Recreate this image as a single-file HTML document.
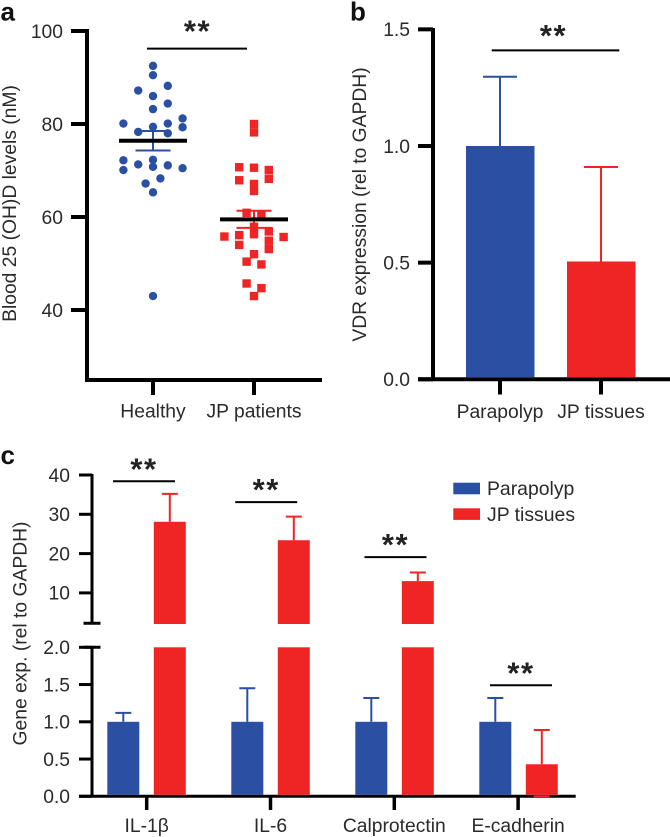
<!DOCTYPE html>
<html lang="en">
<head>
<meta charset="utf-8">
<title>Vitamin D and gene expression charts</title>
<style>
html,body{margin:0;padding:0;background:#fff;width:670px;height:837px;overflow:hidden}
svg{display:block}
text{font-family:"Liberation Sans",Arial,sans-serif;fill:#2b2a2b}
.tick{font-size:19.3px}
.cat{font-size:19.3px}
.title{font-size:19.3px}
.legend{font-size:19.4px}
.panel{font-size:26px;font-weight:bold;fill:#111}
.stars{font-size:31px;font-weight:bold;letter-spacing:1.5px;fill:#222}
</style>
</head>
<body>
<svg id="figure" xmlns="http://www.w3.org/2000/svg" width="670" height="837" viewBox="0 0 670 837">
<text class="panel" x="0.5" y="20.5">a</text>
<text class="panel" x="350" y="20.5">b</text>
<text class="panel" x="0.5" y="464">c</text>
<text class="title" transform="translate(16,203.5) rotate(-90)" text-anchor="middle">Blood 25 (OH)D levels (nM)</text>
<text class="title" transform="translate(366,204.5) rotate(-90)" text-anchor="middle">VDR expression (rel to GAPDH)</text>
<text class="title" transform="translate(26.5,633.5) rotate(-90)" text-anchor="middle">Gene exp. (rel to GAPDH)</text>
<rect x="453.3" y="482.7" width="26.7" height="11.6" fill="#2a4fa3"/>
<text class="legend" x="487" y="495">Parapolyp</text>
<rect x="453.3" y="508.3" width="26.7" height="11.6" fill="#ee2524"/>
<text class="legend" x="487" y="521">JP tissues</text>
</svg>
<script>
// ---- Panel a data ----
const aCategories = ['Healthy', 'JP patients'];
const aTicks = [100, 80, 60, 40];
const healthyValues = [92.5, 90.5, 88.2, 87.2, 86.0, 84.4, 83.2, 81.2, 80.1, 80.1, 79.4, 79.3, 78.3, 78.0, 72.3, 72.2, 71.3, 71.1, 70.8, 70.5, 70.1, 68.3, 67.2, 65.3, 43.0];
const healthySlots = [0, 0, 2, -2, 0, 2, 0, 4, -4, 2, 0, 4, -2, 2, 0, -4, -2, 2, 0, 4, -4, 1, -1, 0, 0];
const patientValues = [80.0, 78.2, 70.7, 70.6, 70.1, 68.2, 67.9, 67.1, 65.6, 60.9, 60.4, 57.9, 56.9, 56.3, 56.1, 55.8, 55.7, 54.9, 54.0, 53.1, 52.0, 50.4, 49.8, 45.7, 44.7, 43.0];
const patientSlots = [0, 0, -2, 0, 2, 2, -2, 0, 0, -1, 1, 0, 2, 0, -2, -4, 4, 2, -2, 2, 0, -1, 1, -1, 1, 0];
const aMeans = [76.4, 59.5];
const aSems = [2.1, 1.85];
const aBracketLevel = 96.2;

// ---- Panel b data ----
const bCategories = ['Parapolyp', 'JP tissues'];
const bTicks = ['1.5', '1.0', '0.5', '0.0'];
const bValues = [1.0, 0.505];
const bErrors = [0.297, 0.405];
const bBracketLevel = 1.41;

// ---- Panel c data ----
const cCategories = ['IL-1\u03b2', 'IL-6', 'Calprotectin', 'E-cadherin'];
const cUpperTicks = [40, 30, 20, 10];
const cLowerTicks = ['2.0', '1.5', '1.0', '0.5', '0.0'];
const cParapolyp = [1.0, 1.0, 1.0, 1.0];
const cParapolypErr = [0.12, 0.45, 0.32, 0.32];
const cTissues = [28.1, 23.4, 13.0, 0.43];
const cTissuesErr = [7.1, 6.0, 2.2, 0.46];
const cBracketUpper = [38.4, 33.1, 19.1, null];
const cBracketLower = [null, null, null, 1.49];

const BLUE = '#2a4fa3', RED = '#ee2524', BLACK = '#000';
const svg = document.getElementById('figure');
const NS = 'http://www.w3.org/2000/svg';

function make(tag, attrs) {
  const el = document.createElementNS(NS, tag);
  for (const k in attrs) el.setAttribute(k, attrs[k]);
  svg.appendChild(el);
  return el;
}
function line(x1, y1, x2, y2, color, w) {
  return make('line', { x1: x1, y1: y1, x2: x2, y2: y2, stroke: color, 'stroke-width': w });
}
function label(str, x, y, cls, anchor) {
  const el = make('text', { x: x, y: y, class: cls, 'text-anchor': anchor });
  el.textContent = str;
  return el;
}

// ---- axis functions ----
const yA = v => 31 + (100 - v) * 4.65;
const xA = i => 153 + i * 101;
const yB = v => 379.3 - v * 233.3;
const xB = i => 500 + i * 101;
const yCUp = v => 475 + (40 - v) * 3.93;
const yCLow = v => 796.3 - v * 74.5;
const yC = v => (v > 2 ? yCUp(v) : yCLow(v));
const xC = i => 146.7 + i * 124;
const xCTick = i => 146.7 + i * 123.8;

// ---- Panel a ----
const aYAxis = line(87, 29, 87, 382, BLACK, 4);


const aXAxis = line(85, 380, 322, 380, BLACK, 4);


aTicks.forEach(t => {
  const m = line(71, yA(t), 87, yA(t), BLACK, 4);
  
  
  const l = label(t, 63, yA(t) + 6.8, 'tick', 'end');
  
  
});
aCategories.forEach((c, i) => {
  const m = line(xA(i), 380, xA(i), 395, BLACK, 4);
  
  
  const l = label(c, xA(i), 417.5, 'cat', 'middle');
  
  
});
healthyValues.forEach((v, i) => {
  const p = make('circle', { cx: xA(0) + healthySlots[i] * 7.4, cy: yA(v), r: 4.2, fill: BLUE });
  
  
});
patientValues.forEach((v, i) => {
  const p = make('rect', { x: xA(1) + patientSlots[i] * 7.4 - 4.2, y: yA(v) - 4.2, width: 8.4, height: 8.4, fill: RED });
  
  
});
aMeans.forEach((mean, i) => {
  const color = i === 0 ? BLUE : RED;
  const hi = yA(mean + aSems[i]), lo = yA(mean - aSems[i]);
  [[xA(i), hi, xA(i), lo], [xA(i) - 17.5, hi, xA(i) + 17.5, hi], [xA(i) - 17.5, lo, xA(i) + 17.5, lo]].forEach(s => {
    const e = line(s[0], s[1], s[2], s[3], color, 2);
    
    
  });
  const m = line(xA(i) - 34, yA(mean), xA(i) + 34, yA(mean), BLACK, 4);
  
  
});
const aBracket = line(xA(0) - 6, yA(aBracketLevel), xA(1) - 7, yA(aBracketLevel), BLACK, 2);


const aStars = label('**', (xA(0) + xA(1)) / 2 - 6, yA(aBracketLevel) - 7, 'stars', 'middle');



// ---- Panel b ----
const bYAxis = line(433, 28, 433, 381, BLACK, 4);


const bXAxis = line(418, 379.3, 670, 379.3, BLACK, 4);


bTicks.forEach(t => {
  const m = line(418, yB(+t), 433, yB(+t), BLACK, 4);
  
  
  const l = label(t, 410, yB(+t) + 6.8, 'tick', 'end');
  
  
});
bCategories.forEach((c, i) => {
  const m = line(xB(i), 379, xB(i), 394.5, BLACK, 4);
  
  
  const l = label(c, xB(i), 418, 'cat', 'middle');
  
  
});
bValues.forEach((v, i) => {
  const color = i === 0 ? BLUE : RED;
  const top = yB(v + bErrors[i]);
  const stem = line(xB(i), top, xB(i), yB(v), color, 2);
  
  
  const cap = line(xB(i) - 17, top, xB(i) + 17, top, color, 2);
  
  
  const b = make('rect', { x: xB(i) - 34, y: yB(v), width: 68.5, height: yB(0) - yB(v) - 2, fill: color });
  
  
});
const bBracket = line(491.7, yB(bBracketLevel), 619.3, yB(bBracketLevel), BLACK, 2);


const bStars = label('**', 553.5, yB(bBracketLevel) - 4.5, 'stars', 'middle');



// ---- Panel c ----
const cUpAxis = line(92, 474, 92, 624.4, BLACK, 3);


const cLowAxis = line(92, 646, 92, 797, BLACK, 3);


const cXAxis = line(79, yCLow(0), 575.7, yCLow(0), BLACK, 3);


const breakTop = line(83.5, 623.3, 100.5, 623.3, BLACK, 3);


const breakBottom = line(83.5, yCLow(2), 100.5, yCLow(2), BLACK, 3);


cUpperTicks.forEach(t => {
  const m = line(79, yCUp(t), 92, yCUp(t), BLACK, 3);
  
  
  const l = label(t, 70, yCUp(t) + 6.8, 'tick', 'end');
  
  
});
cLowerTicks.forEach(t => {
  const m = line(79, yCLow(+t), 92, yCLow(+t), BLACK, 3);
  
  
  const l = label(t, 70, yCLow(+t) + 6.8, 'tick', 'end');
  
  
});
function cBar(i, dx, v, err, color) {
  const cx = xC(i) + dx;
  const top = v + err;
  const stem = line(cx, yC(top), cx, yC(v), color, 2);
  
  
  const cap = line(cx - 8, yC(top), cx + 8, yC(top), color, 2);
  
  
  const lowTop = yCLow(Math.min(v, 2));
  const low = make('rect', { x: cx - 16, y: lowTop, width: 32, height: yCLow(0) - lowTop - 1.5, fill: color });
  
  
  if (v > 2) {
    const upTop = yCUp(v);
    const up = make('rect', { x: cx - 16, y: upTop, width: 32, height: 624 - upTop, fill: color });
    
    
  }
}
cCategories.forEach((c, i) => {
  cBar(i, -23.4, cParapolyp[i], cParapolypErr[i], BLUE);
  cBar(i, 23.1, cTissues[i], cTissuesErr[i], RED);
  if (cTissues[i] - cTissuesErr[i] <= 0) {
    const lowCap = line(xC(i) + 15, yCLow(0), xC(i) + 31, yCLow(0), RED, 2);
    
    
  }
  const m = line(xCTick(i), yCLow(0), xCTick(i), 810, BLACK, 3.5);
  
  
  const l = label(c, xCTick(i), 832, 'cat', 'middle');
  
  
});
const cBracketShift = [-2.7, -4.5, 0.8, 2.3];
cCategories.forEach((c, i) => {
  const level = cBracketUpper[i] !== null ? yCUp(cBracketUpper[i]) : yCLow(cBracketLower[i]);
  const mid = xC(i) + cBracketShift[i];
  const b = line(mid - 31, level, mid + 31, level, BLACK, 2);
  
  
  const s = label('**', mid, level - 2, 'stars', 'middle');
  
  
});
</script>
</body>
</html>
